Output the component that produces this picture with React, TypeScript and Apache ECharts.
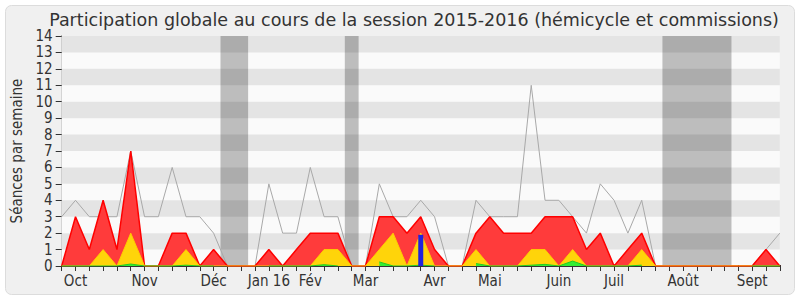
import React, { useEffect, useRef } from "react";
import * as echarts from "echarts";

const FONT = "'DejaVu Sans Condensed', 'DejaVu Sans', sans-serif";
const TITLE_FONT = "'DejaVu Sans', sans-serif";

const TITLE = "Participation globale au cours de la session 2015-2016 (hémicycle et commissions)";
const Y_NAME = "Séances par semaine";

// weeks 0..52
const totalWeek = [3, 4, 3, 3, 3, 7, 3, 3, 6, 3, 3, 2, 0, 0, 0, 5, 2, 2, 6, 3, 3, 0, 0, 5, 3, 3, 4, 3, 0, 0, 4, 3, 3, 3, 11, 4, 4, 3, 2, 5, 4, 2, 4, 0, 0, 0, 0, 0, 0, 0, 0, 1, 2];
const presence = [0, 3, 1, 4, 1, 7, 0, 0, 2, 2, 0, 1, 0, 0, 0, 1, 0, 1, 2, 2, 2, 0, 0, 3, 3, 2, 3, 1, 0, 0, 2, 3, 2, 2, 2, 3, 3, 3, 1, 2, 0, 1, 2, 0, 0, 0, 0, 0, 0, 0, 0, 1, 0];
const commission = [0, 0, 0, 1, 0, 2, 0, 0, 0, 1, 0, 0, 0, 0, 0, 0, 0, 0, 0, 1, 1, 0, 0, 1, 2, 0, 2, 0, 0, 0, 1, 0, 0, 0, 1, 1, 0, 1, 0, 0, 0, 0, 1, 0, 0, 0, 0, 0, 0, 0, 0, 0, 0];
const hemicycle: (number | null)[] = [0, 0, 0, 0, 0, 0.12, 0, 0, 0, 0.05, 0, 0, null, null, null, 0, 0, 0, 0, 0.08, 0, null, null, 0.25, 0, 0, 0.05, 0, null, null, 0.15, 0, 0, 0, 0.05, 0.1, 0, 0.3, 0, 0, 0, 0, 0.05, null, null, null, null, null, null, null, 0, 0, 0];
const questionsWeek = [26];
const questionsValue = [1.9];

const monthWeeks = [1, 6, 11, 15, 18, 22, 27, 31, 36, 40, 45, 50];
const monthLabels = ["Oct", "Nov", "Déc", "Jan 16", "Fév", "Mar", "Avr", "Mai", "Juin", "Juil", "Août", "Sept"];

const vacationStart = [11.5, 20.5, 43.5];
const vacationEnd = [13.5, 21.5, 48.5];

const Y_MAX = 14;

export default function App() {
  const ref = useRef<HTMLDivElement>(null);
  useEffect(() => {
    if (!ref.current) return;
    const chart = echarts.init(ref.current, undefined, { renderer: "svg" });
    const pts = (arr: (number | null)[]) => arr.map((v, i) => [i, v]);
    const labelMap: Record<number, string> = {};
    monthWeeks.forEach((w, k) => (labelMap[w] = monthLabels[k]));
    const stripes: any[] = [];
    for (let v = 1; v < Y_MAX; v += 2) stripes.push([{ yAxis: v }, { yAxis: v + 1 }]);
    const vac = vacationStart.map((s, k) => [{ xAxis: s }, { xAxis: vacationEnd[k] }]);
    const nWeeks = totalWeek.length - 1;

    chart.setOption({
      animation: false,
      backgroundColor: "#ffffff",
      textStyle: { fontFamily: FONT },
      graphic: [
        {
          type: "rect",
          z: -10,
          shape: { x: 5.5, y: 5.5, width: 789, height: 289, r: 6 },
          style: { fill: "#f0f0f0", stroke: "#dcdcdc", lineWidth: 1 },
        },
        {
          type: "text",
          x: 414,
          y: 20,
          style: {
            text: TITLE,
            fontFamily: TITLE_FONT,
            fontSize: 17.5,
            fill: "#333333",
            align: "center",
            verticalAlign: "middle",
          },
        },
        {
          type: "text",
          x: 17,
          y: 151,
          rotation: Math.PI / 2,
          style: {
            text: Y_NAME,
            fontFamily: FONT,
            fontSize: 15,
            fill: "#333333",
            align: "center",
            verticalAlign: "middle",
          },
        },
      ],
      grid: {
        left: 61.7,
        right: 20.2,
        top: 36,
        bottom: 34,
        show: true,
        backgroundColor: "#fafafa",
        borderWidth: 0,
      },
      xAxis: [
        {
          type: "value",
          min: 0,
          max: nWeeks,
          interval: 1,
          axisLine: { lineStyle: { color: "#333333", width: 1 } },
          axisTick: { length: 5, lineStyle: { color: "#333333" } },
          axisLabel: {
            formatter: (v: number) => labelMap[v] || "",
            fontSize: 15,
            color: "#333333",
            fontFamily: FONT,
            margin: 7,
          },
          splitLine: { show: false },
        },
        {
          type: "value",
          position: "top",
          min: 0,
          max: nWeeks,
          interval: 1,
          axisLine: { show: false },
          axisTick: { length: 1, lineStyle: { color: "#333333" } },
          axisLabel: { show: false },
          splitLine: { show: false },
        },
      ],
      yAxis: [
        {
          type: "value",
          min: 0,
          max: Y_MAX,
          interval: 1,
          axisLine: { show: true, lineStyle: { color: "#333333" } },
          axisTick: { show: true, length: 6, lineStyle: { color: "#333333" } },
          axisLabel: { fontSize: 15, color: "#333333", fontFamily: FONT, margin: 9 },
          splitLine: { show: false },
        },
        {
          type: "value",
          position: "right",
          min: 0,
          max: Y_MAX,
          interval: 1,
          axisLine: { show: true, lineStyle: { color: "#d4d4d4" } },
          axisTick: { show: false },
          axisLabel: { show: false },
          splitLine: { show: false },
        },
      ],
      series: [
        {
          type: "line",
          data: [],
          z: 1,
          silent: true,
          markArea: { silent: true, itemStyle: { color: "#bdbdbd" }, data: vac },
        },
        {
          type: "line",
          data: [],
          z: 1,
          silent: true,
          markArea: { silent: true, itemStyle: { color: "rgba(0,0,0,0.085)" }, data: stripes },
        },
        {
          type: "line",
          data: pts(totalWeek),
          z: 3,
          symbol: "none",
          lineStyle: { color: "#a8a8a8", width: 1 },
        },
        {
          type: "line",
          data: pts(presence),
          z: 4,
          symbol: "none",
          lineStyle: { color: "#ff0000", width: 1.5 },
          areaStyle: { color: "#ff3b3b", opacity: 1 },
        },
        {
          type: "line",
          data: pts(commission),
          z: 5,
          symbol: "none",
          lineStyle: { color: "#ffcc00", width: 1 },
          areaStyle: { color: "#ffd40a", opacity: 1 },
        },
        {
          type: "line",
          data: pts(hemicycle),
          z: 6,
          symbol: "none",
          lineStyle: { color: "#22cc22", width: 1 },
          areaStyle: { color: "#33ee33", opacity: 1 },
        },
        {
          type: "bar",
          data: questionsWeek.map((w, k) => [w, questionsValue[k]]),
          z: 7,
          barWidth: 5,
          itemStyle: { color: "#2222dd" },
        },
      ],
    });
    return () => chart.dispose();
  }, []);
  return (
    <div
      ref={ref}
      style={{ position: "fixed", left: 0, top: 0, width: 800, height: 300 }}
    />
  );
}
